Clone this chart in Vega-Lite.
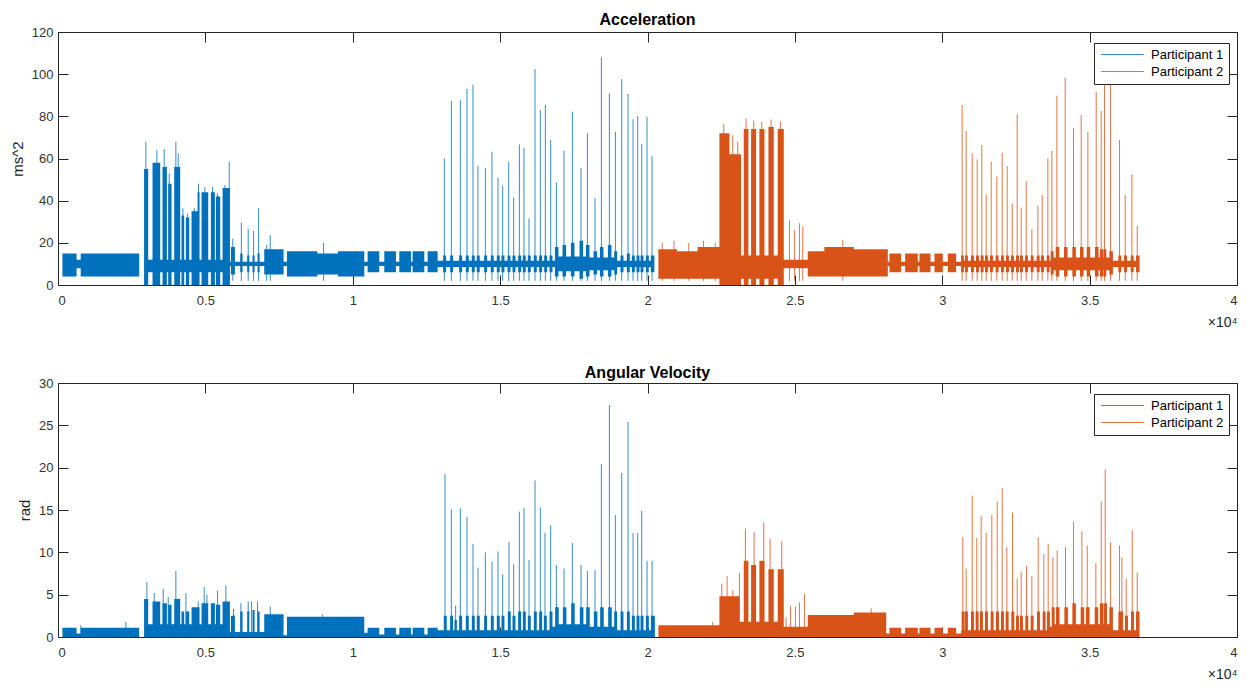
{
  "$schema": "https://vega.github.io/schema/vega-lite/v6.json",
  "background": "white",
  "padding": {"left": 10, "top": 12, "right": 7, "bottom": 2},
  "config": {
    "font": "Liberation Sans",
    "view": {"stroke": null},
    "axis": {
      "grid": false,
      "domainColor": "#262626",
      "tickColor": "#262626",
      "labelColor": "#333333",
      "titleColor": "#262626",
      "labelFont": "Liberation Sans",
      "titleFont": "Liberation Sans",
      "labelFontSize": 13,
      "titleFontSize": 15,
      "titleFontWeight": "normal",
      "tickSize": -10,
      "tickWidth": 1,
      "domainWidth": 1
    },
    "axisLeft": {"labelPadding": 15, "titlePadding": 6},
    "axisBottom": {"labelPadding": 19},
    "title": {"font": "Liberation Sans", "fontSize": 16, "fontWeight": "bold", "color": "#000000"},
    "legend": {
      "orient": "none",
      "legendX": 1036,
      "legendY": 11,
      "symbolType": "M-4.3,0H4.3",
      "symbolSize": 100,
      "symbolOffset": 17,
      "symbolStrokeWidth": 1.2,
      "symbolOpacity": 0.8,
      "labelFont": "Liberation Sans",
      "labelFontSize": 13,
      "labelColor": "#000000",
      "labelOffset": 22,
      "strokeColor": "#262626",
      "fillColor": "white",
      "padding": 5,
      "rowPadding": 3,
      "cornerRadius": 0
    }
  },
  "datasets": {
    "accBand": [
      {"t": 150, "lo": 4, "hi": 15, "p": "Participant 1"},
      {"t": 630, "lo": 8, "hi": 12, "p": "Participant 1"},
      {"t": 770, "lo": 4, "hi": 15, "p": "Participant 1"},
      {"t": 2755, "lo": 10, "hi": 10, "p": "Participant 1"},
      {"t": 2920, "lo": 0, "hi": 55, "p": "Participant 1"},
      {"t": 3060, "lo": 6, "hi": 12, "p": "Participant 1"},
      {"t": 3207, "lo": 0, "hi": 58, "p": "Participant 1"},
      {"t": 3467, "lo": 6, "hi": 12, "p": "Participant 1"},
      {"t": 3546, "lo": 0, "hi": 56, "p": "Participant 1"},
      {"t": 3694, "lo": 6, "hi": 12, "p": "Participant 1"},
      {"t": 3739, "lo": 0, "hi": 48, "p": "Participant 1"},
      {"t": 3852, "lo": 6, "hi": 12, "p": "Participant 1"},
      {"t": 3943, "lo": 0, "hi": 56, "p": "Participant 1"},
      {"t": 4146, "lo": 6, "hi": 12, "p": "Participant 1"},
      {"t": 4191, "lo": 0, "hi": 33, "p": "Participant 1"},
      {"t": 4282, "lo": 6, "hi": 12, "p": "Participant 1"},
      {"t": 4338, "lo": 0, "hi": 32, "p": "Participant 1"},
      {"t": 4452, "lo": 6, "hi": 12, "p": "Participant 1"},
      {"t": 4531, "lo": 0, "hi": 35, "p": "Participant 1"},
      {"t": 4735, "lo": 0, "hi": 44, "p": "Participant 1"},
      {"t": 4802, "lo": 6, "hi": 12, "p": "Participant 1"},
      {"t": 4870, "lo": 0, "hi": 44, "p": "Participant 1"},
      {"t": 5097, "lo": 6, "hi": 12, "p": "Participant 1"},
      {"t": 5187, "lo": 0, "hi": 44, "p": "Participant 1"},
      {"t": 5323, "lo": 6, "hi": 12, "p": "Participant 1"},
      {"t": 5357, "lo": 0, "hi": 42, "p": "Participant 1"},
      {"t": 5504, "lo": 6, "hi": 12, "p": "Participant 1"},
      {"t": 5583, "lo": 0, "hi": 46, "p": "Participant 1"},
      {"t": 5832, "lo": 9, "hi": 11, "p": "Participant 1"},
      {"t": 5866, "lo": 5, "hi": 18, "p": "Participant 1"},
      {"t": 6002, "lo": 9, "hi": 11, "p": "Participant 1"},
      {"t": 6183, "lo": 6, "hi": 15, "p": "Participant 1"},
      {"t": 6262, "lo": 9, "hi": 11, "p": "Participant 1"},
      {"t": 6420, "lo": 6, "hi": 14, "p": "Participant 1"},
      {"t": 6490, "lo": 9, "hi": 11, "p": "Participant 1"},
      {"t": 6600, "lo": 6, "hi": 14, "p": "Participant 1"},
      {"t": 6670, "lo": 9, "hi": 11, "p": "Participant 1"},
      {"t": 6770, "lo": 6, "hi": 15, "p": "Participant 1"},
      {"t": 6840, "lo": 9, "hi": 11, "p": "Participant 1"},
      {"t": 6997, "lo": 5, "hi": 17, "p": "Participant 1"},
      {"t": 7653, "lo": 9, "hi": 11, "p": "Participant 1"},
      {"t": 7767, "lo": 4, "hi": 16, "p": "Participant 1"},
      {"t": 8800, "lo": 5, "hi": 15, "p": "Participant 1"},
      {"t": 9500, "lo": 4, "hi": 16, "p": "Participant 1"},
      {"t": 10391, "lo": 9, "hi": 11, "p": "Participant 1"},
      {"t": 10504, "lo": 6, "hi": 16, "p": "Participant 1"},
      {"t": 10900, "lo": 9, "hi": 11, "p": "Participant 1"},
      {"t": 11070, "lo": 6, "hi": 16, "p": "Participant 1"},
      {"t": 11466, "lo": 9, "hi": 11, "p": "Participant 1"},
      {"t": 11580, "lo": 6, "hi": 16, "p": "Participant 1"},
      {"t": 11975, "lo": 9, "hi": 11, "p": "Participant 1"},
      {"t": 12031, "lo": 6, "hi": 16, "p": "Participant 1"},
      {"t": 12428, "lo": 9, "hi": 11, "p": "Participant 1"},
      {"t": 12541, "lo": 6, "hi": 16, "p": "Participant 1"},
      {"t": 12880, "lo": 8.5, "hi": 11.5, "p": "Participant 1"},
      {"t": 13067, "lo": 6, "hi": 14, "p": "Participant 1"},
      {"t": 13167, "lo": 8.5, "hi": 11.5, "p": "Participant 1"},
      {"t": 13305, "lo": 6, "hi": 14, "p": "Participant 1"},
      {"t": 13405, "lo": 8.5, "hi": 11.5, "p": "Participant 1"},
      {"t": 13610, "lo": 6, "hi": 14, "p": "Participant 1"},
      {"t": 13710, "lo": 8.5, "hi": 11.5, "p": "Participant 1"},
      {"t": 13836, "lo": 6, "hi": 14, "p": "Participant 1"},
      {"t": 13936, "lo": 8.5, "hi": 11.5, "p": "Participant 1"},
      {"t": 14039, "lo": 6, "hi": 14, "p": "Participant 1"},
      {"t": 14139, "lo": 8.5, "hi": 11.5, "p": "Participant 1"},
      {"t": 14208, "lo": 6, "hi": 14, "p": "Participant 1"},
      {"t": 14308, "lo": 8.5, "hi": 11.5, "p": "Participant 1"},
      {"t": 14459, "lo": 6, "hi": 14, "p": "Participant 1"},
      {"t": 14559, "lo": 8.5, "hi": 11.5, "p": "Participant 1"},
      {"t": 14683, "lo": 6, "hi": 14, "p": "Participant 1"},
      {"t": 14783, "lo": 8.5, "hi": 11.5, "p": "Participant 1"},
      {"t": 14887, "lo": 6, "hi": 14, "p": "Participant 1"},
      {"t": 14987, "lo": 8.5, "hi": 11.5, "p": "Participant 1"},
      {"t": 15046, "lo": 6, "hi": 14, "p": "Participant 1"},
      {"t": 15146, "lo": 8.5, "hi": 11.5, "p": "Participant 1"},
      {"t": 15250, "lo": 6, "hi": 14, "p": "Participant 1"},
      {"t": 15350, "lo": 8.5, "hi": 11.5, "p": "Participant 1"},
      {"t": 15420, "lo": 6, "hi": 14, "p": "Participant 1"},
      {"t": 15520, "lo": 8.5, "hi": 11.5, "p": "Participant 1"},
      {"t": 15613, "lo": 6, "hi": 14, "p": "Participant 1"},
      {"t": 15713, "lo": 8.5, "hi": 11.5, "p": "Participant 1"},
      {"t": 15769, "lo": 6, "hi": 14, "p": "Participant 1"},
      {"t": 15869, "lo": 8.5, "hi": 11.5, "p": "Participant 1"},
      {"t": 15939, "lo": 6, "hi": 14, "p": "Participant 1"},
      {"t": 16039, "lo": 8.5, "hi": 11.5, "p": "Participant 1"},
      {"t": 16143, "lo": 6, "hi": 14, "p": "Participant 1"},
      {"t": 16243, "lo": 8.5, "hi": 11.5, "p": "Participant 1"},
      {"t": 16325, "lo": 6, "hi": 14, "p": "Participant 1"},
      {"t": 16425, "lo": 8.5, "hi": 11.5, "p": "Participant 1"},
      {"t": 16495, "lo": 6, "hi": 14, "p": "Participant 1"},
      {"t": 16595, "lo": 8.5, "hi": 11.5, "p": "Participant 1"},
      {"t": 16676, "lo": 6, "hi": 14, "p": "Participant 1"},
      {"t": 16776, "lo": 8.5, "hi": 11.5, "p": "Participant 1"},
      {"t": 16859, "lo": 4, "hi": 18, "p": "Participant 1"},
      {"t": 16979, "lo": 6.5, "hi": 13.5, "p": "Participant 1"},
      {"t": 17117, "lo": 4, "hi": 19, "p": "Participant 1"},
      {"t": 17237, "lo": 6.5, "hi": 13.5, "p": "Participant 1"},
      {"t": 17402, "lo": 4, "hi": 20, "p": "Participant 1"},
      {"t": 17522, "lo": 6.5, "hi": 13.5, "p": "Participant 1"},
      {"t": 17694, "lo": 3, "hi": 21, "p": "Participant 1"},
      {"t": 17814, "lo": 6.5, "hi": 13.5, "p": "Participant 1"},
      {"t": 17911, "lo": 4, "hi": 19, "p": "Participant 1"},
      {"t": 18031, "lo": 7, "hi": 13, "p": "Participant 1"},
      {"t": 18169, "lo": 5, "hi": 16, "p": "Participant 1"},
      {"t": 18289, "lo": 7, "hi": 13, "p": "Participant 1"},
      {"t": 18386, "lo": 4, "hi": 18, "p": "Participant 1"},
      {"t": 18506, "lo": 7, "hi": 13, "p": "Participant 1"},
      {"t": 18657, "lo": 4, "hi": 19, "p": "Participant 1"},
      {"t": 18777, "lo": 7, "hi": 13, "p": "Participant 1"},
      {"t": 18871, "lo": 5, "hi": 16, "p": "Participant 1"},
      {"t": 18971, "lo": 8.5, "hi": 11.5, "p": "Participant 1"},
      {"t": 19085, "lo": 6, "hi": 14, "p": "Participant 1"},
      {"t": 19185, "lo": 8.5, "hi": 11.5, "p": "Participant 1"},
      {"t": 19299, "lo": 6, "hi": 15, "p": "Participant 1"},
      {"t": 19399, "lo": 8.5, "hi": 11.5, "p": "Participant 1"},
      {"t": 19469, "lo": 6, "hi": 14, "p": "Participant 1"},
      {"t": 19569, "lo": 8.5, "hi": 11.5, "p": "Participant 1"},
      {"t": 19628, "lo": 6, "hi": 14, "p": "Participant 1"},
      {"t": 19728, "lo": 8.5, "hi": 11.5, "p": "Participant 1"},
      {"t": 19764, "lo": 6, "hi": 14, "p": "Participant 1"},
      {"t": 19864, "lo": 8.5, "hi": 11.5, "p": "Participant 1"},
      {"t": 19944, "lo": 6, "hi": 14, "p": "Participant 1"},
      {"t": 20044, "lo": 8.5, "hi": 11.5, "p": "Participant 1"},
      {"t": 20114, "lo": 6, "hi": 14, "p": "Participant 1"},
      {"t": 20233, "lo": 10, "hi": 10, "p": "Participant 1"},
      {"t": 20370, "lo": 3, "hi": 17, "p": "Participant 2"},
      {"t": 21000, "lo": 3, "hi": 16, "p": "Participant 2"},
      {"t": 21700, "lo": 3, "hi": 18, "p": "Participant 2"},
      {"t": 22440, "lo": 0, "hi": 72, "p": "Participant 2"},
      {"t": 22779, "lo": 0, "hi": 62, "p": "Participant 2"},
      {"t": 23175, "lo": 3, "hi": 14, "p": "Participant 2"},
      {"t": 23266, "lo": 0, "hi": 74, "p": "Participant 2"},
      {"t": 23424, "lo": 3, "hi": 14, "p": "Participant 2"},
      {"t": 23515, "lo": 0, "hi": 74, "p": "Participant 2"},
      {"t": 23684, "lo": 3, "hi": 14, "p": "Participant 2"},
      {"t": 23797, "lo": 0, "hi": 74, "p": "Participant 2"},
      {"t": 23967, "lo": 3, "hi": 14, "p": "Participant 2"},
      {"t": 24103, "lo": 0, "hi": 75, "p": "Participant 2"},
      {"t": 24284, "lo": 3, "hi": 14, "p": "Participant 2"},
      {"t": 24419, "lo": 0, "hi": 74, "p": "Participant 2"},
      {"t": 24623, "lo": 8, "hi": 12, "p": "Participant 2"},
      {"t": 25438, "lo": 4, "hi": 16, "p": "Participant 2"},
      {"t": 26000, "lo": 4, "hi": 18, "p": "Participant 2"},
      {"t": 27000, "lo": 4, "hi": 17, "p": "Participant 2"},
      {"t": 28153, "lo": 9, "hi": 11, "p": "Participant 2"},
      {"t": 28209, "lo": 6, "hi": 15, "p": "Participant 2"},
      {"t": 28605, "lo": 9, "hi": 11, "p": "Participant 2"},
      {"t": 28741, "lo": 6, "hi": 15, "p": "Participant 2"},
      {"t": 29171, "lo": 9, "hi": 11, "p": "Participant 2"},
      {"t": 29227, "lo": 6, "hi": 15, "p": "Participant 2"},
      {"t": 29601, "lo": 9, "hi": 11, "p": "Participant 2"},
      {"t": 29737, "lo": 6, "hi": 15, "p": "Participant 2"},
      {"t": 30019, "lo": 9, "hi": 11, "p": "Participant 2"},
      {"t": 30189, "lo": 6, "hi": 15, "p": "Participant 2"},
      {"t": 30472, "lo": 9, "hi": 11, "p": "Participant 2"},
      {"t": 30641, "lo": 6, "hi": 14, "p": "Participant 2"},
      {"t": 30735, "lo": 8.5, "hi": 11.5, "p": "Participant 2"},
      {"t": 30771, "lo": 6, "hi": 14, "p": "Participant 2"},
      {"t": 30871, "lo": 8.5, "hi": 11.5, "p": "Participant 2"},
      {"t": 30975, "lo": 6, "hi": 14, "p": "Participant 2"},
      {"t": 31075, "lo": 8.5, "hi": 11.5, "p": "Participant 2"},
      {"t": 31145, "lo": 6, "hi": 14, "p": "Participant 2"},
      {"t": 31245, "lo": 8.5, "hi": 11.5, "p": "Participant 2"},
      {"t": 31303, "lo": 6, "hi": 14, "p": "Participant 2"},
      {"t": 31403, "lo": 8.5, "hi": 11.5, "p": "Participant 2"},
      {"t": 31450, "lo": 6, "hi": 14, "p": "Participant 2"},
      {"t": 31550, "lo": 8.5, "hi": 11.5, "p": "Participant 2"},
      {"t": 31620, "lo": 6, "hi": 14, "p": "Participant 2"},
      {"t": 31720, "lo": 8.5, "hi": 11.5, "p": "Participant 2"},
      {"t": 31812, "lo": 6, "hi": 14, "p": "Participant 2"},
      {"t": 31912, "lo": 8.5, "hi": 11.5, "p": "Participant 2"},
      {"t": 31993, "lo": 6, "hi": 14, "p": "Participant 2"},
      {"t": 32093, "lo": 8.5, "hi": 11.5, "p": "Participant 2"},
      {"t": 32163, "lo": 6, "hi": 14, "p": "Participant 2"},
      {"t": 32263, "lo": 8.5, "hi": 11.5, "p": "Participant 2"},
      {"t": 32333, "lo": 6, "hi": 14, "p": "Participant 2"},
      {"t": 32433, "lo": 8.5, "hi": 11.5, "p": "Participant 2"},
      {"t": 32502, "lo": 6, "hi": 14, "p": "Participant 2"},
      {"t": 32602, "lo": 8.5, "hi": 11.5, "p": "Participant 2"},
      {"t": 32638, "lo": 6, "hi": 14, "p": "Participant 2"},
      {"t": 32738, "lo": 8.5, "hi": 11.5, "p": "Participant 2"},
      {"t": 32808, "lo": 6, "hi": 14, "p": "Participant 2"},
      {"t": 32908, "lo": 8.5, "hi": 11.5, "p": "Participant 2"},
      {"t": 33000, "lo": 6, "hi": 14, "p": "Participant 2"},
      {"t": 33100, "lo": 8.5, "hi": 11.5, "p": "Participant 2"},
      {"t": 33204, "lo": 6, "hi": 14, "p": "Participant 2"},
      {"t": 33304, "lo": 8.5, "hi": 11.5, "p": "Participant 2"},
      {"t": 33351, "lo": 6, "hi": 14, "p": "Participant 2"},
      {"t": 33451, "lo": 8.5, "hi": 11.5, "p": "Participant 2"},
      {"t": 33543, "lo": 6, "hi": 14, "p": "Participant 2"},
      {"t": 33643, "lo": 8.5, "hi": 11.5, "p": "Participant 2"},
      {"t": 33679, "lo": 5, "hi": 16, "p": "Participant 2"},
      {"t": 33779, "lo": 7, "hi": 13, "p": "Participant 2"},
      {"t": 33849, "lo": 4, "hi": 18, "p": "Participant 2"},
      {"t": 33969, "lo": 7, "hi": 13, "p": "Participant 2"},
      {"t": 34131, "lo": 4, "hi": 18, "p": "Participant 2"},
      {"t": 34251, "lo": 7, "hi": 13, "p": "Participant 2"},
      {"t": 34414, "lo": 4, "hi": 18, "p": "Participant 2"},
      {"t": 34534, "lo": 7, "hi": 13, "p": "Participant 2"},
      {"t": 34674, "lo": 4, "hi": 18, "p": "Participant 2"},
      {"t": 34794, "lo": 7, "hi": 13, "p": "Participant 2"},
      {"t": 34901, "lo": 4, "hi": 18, "p": "Participant 2"},
      {"t": 35021, "lo": 7, "hi": 13, "p": "Participant 2"},
      {"t": 35183, "lo": 4, "hi": 18, "p": "Participant 2"},
      {"t": 35303, "lo": 7, "hi": 13, "p": "Participant 2"},
      {"t": 35353, "lo": 4, "hi": 17, "p": "Participant 2"},
      {"t": 35453, "lo": 7, "hi": 13, "p": "Participant 2"},
      {"t": 35466, "lo": 4, "hi": 17, "p": "Participant 2"},
      {"t": 35566, "lo": 7, "hi": 13, "p": "Participant 2"},
      {"t": 35670, "lo": 5, "hi": 16, "p": "Participant 2"},
      {"t": 35790, "lo": 8.5, "hi": 11.5, "p": "Participant 2"},
      {"t": 35975, "lo": 6, "hi": 14, "p": "Participant 2"},
      {"t": 36075, "lo": 8.5, "hi": 11.5, "p": "Participant 2"},
      {"t": 36168, "lo": 6, "hi": 14, "p": "Participant 2"},
      {"t": 36268, "lo": 8.5, "hi": 11.5, "p": "Participant 2"},
      {"t": 36394, "lo": 6, "hi": 14, "p": "Participant 2"},
      {"t": 36494, "lo": 8.5, "hi": 11.5, "p": "Participant 2"},
      {"t": 36575, "lo": 6, "hi": 14, "p": "Participant 2"},
      {"t": 36694, "lo": 10, "hi": 10, "p": "Participant 2"}
    ],
    "accSpike": [
      {"t": 2981, "v": 68, "p": "Participant 1"},
      {"t": 3354, "v": 64, "p": "Participant 1"},
      {"t": 3603, "v": 64.5, "p": "Participant 1"},
      {"t": 3773, "v": 53, "p": "Participant 1"},
      {"t": 3999, "v": 68, "p": "Participant 1"},
      {"t": 4078, "v": 62.5, "p": "Participant 1"},
      {"t": 4237, "v": 36.4, "p": "Participant 1"},
      {"t": 4395, "v": 34, "p": "Participant 1"},
      {"t": 4621, "v": 36.5, "p": "Participant 1"},
      {"t": 4768, "v": 48, "p": "Participant 1"},
      {"t": 4983, "v": 46.3, "p": "Participant 1"},
      {"t": 5243, "v": 46.6, "p": "Participant 1"},
      {"t": 5413, "v": 43.5, "p": "Participant 1"},
      {"t": 5662, "v": 47.4, "p": "Participant 1"},
      {"t": 5809, "v": 58.5, "p": "Participant 1"},
      {"t": 5930, "v": 22, "p": "Participant 1"},
      {"t": 6220, "v": 29.5, "p": "Participant 1"},
      {"t": 6454, "v": 26.7, "p": "Participant 1"},
      {"t": 6635, "v": 25.6, "p": "Participant 1"},
      {"t": 6805, "v": 36.4, "p": "Participant 1"},
      {"t": 7080, "v": 19, "p": "Participant 1"},
      {"t": 7200, "v": 23.7, "p": "Participant 1"},
      {"t": 9011, "v": 20, "p": "Participant 1"},
      {"t": 13107, "v": 60.1, "p": "Participant 1"},
      {"t": 13345, "v": 87.4, "p": "Participant 1"},
      {"t": 13650, "v": 87.7, "p": "Participant 1"},
      {"t": 13876, "v": 93, "p": "Participant 1"},
      {"t": 14079, "v": 95, "p": "Participant 1"},
      {"t": 14248, "v": 56.6, "p": "Participant 1"},
      {"t": 14499, "v": 55.3, "p": "Participant 1"},
      {"t": 14723, "v": 63.2, "p": "Participant 1"},
      {"t": 14927, "v": 50.9, "p": "Participant 1"},
      {"t": 15086, "v": 47.1, "p": "Participant 1"},
      {"t": 15290, "v": 58.3, "p": "Participant 1"},
      {"t": 15460, "v": 41.6, "p": "Participant 1"},
      {"t": 15653, "v": 66.7, "p": "Participant 1"},
      {"t": 15809, "v": 65.1, "p": "Participant 1"},
      {"t": 15979, "v": 31.6, "p": "Participant 1"},
      {"t": 16183, "v": 102.4, "p": "Participant 1"},
      {"t": 16365, "v": 83, "p": "Participant 1"},
      {"t": 16535, "v": 85.4, "p": "Participant 1"},
      {"t": 16716, "v": 68.8, "p": "Participant 1"},
      {"t": 16909, "v": 48.7, "p": "Participant 1"},
      {"t": 17167, "v": 63.7, "p": "Participant 1"},
      {"t": 17452, "v": 82.2, "p": "Participant 1"},
      {"t": 17744, "v": 55.5, "p": "Participant 1"},
      {"t": 17961, "v": 72, "p": "Participant 1"},
      {"t": 18219, "v": 41.1, "p": "Participant 1"},
      {"t": 18436, "v": 108, "p": "Participant 1"},
      {"t": 18707, "v": 90.9, "p": "Participant 1"},
      {"t": 18911, "v": 72.7, "p": "Participant 1"},
      {"t": 19125, "v": 97.6, "p": "Participant 1"},
      {"t": 19339, "v": 90.6, "p": "Participant 1"},
      {"t": 19509, "v": 78.6, "p": "Participant 1"},
      {"t": 19668, "v": 80.2, "p": "Participant 1"},
      {"t": 19804, "v": 66.9, "p": "Participant 1"},
      {"t": 19984, "v": 79.8, "p": "Participant 1"},
      {"t": 20154, "v": 61.2, "p": "Participant 1"},
      {"t": 20500, "v": 20, "p": "Participant 2"},
      {"t": 20900, "v": 21, "p": "Participant 2"},
      {"t": 21400, "v": 20, "p": "Participant 2"},
      {"t": 21900, "v": 21, "p": "Participant 2"},
      {"t": 22300, "v": 20, "p": "Participant 2"},
      {"t": 22587, "v": 76.4, "p": "Participant 2"},
      {"t": 22892, "v": 71, "p": "Participant 2"},
      {"t": 23062, "v": 68, "p": "Participant 2"},
      {"t": 23345, "v": 79, "p": "Participant 2"},
      {"t": 23605, "v": 78, "p": "Participant 2"},
      {"t": 23876, "v": 77.5, "p": "Participant 2"},
      {"t": 24193, "v": 78.5, "p": "Participant 2"},
      {"t": 24510, "v": 77.5, "p": "Participant 2"},
      {"t": 24816, "v": 30.8, "p": "Participant 2"},
      {"t": 24985, "v": 26, "p": "Participant 2"},
      {"t": 25155, "v": 29.3, "p": "Participant 2"},
      {"t": 25268, "v": 27.7, "p": "Participant 2"},
      {"t": 26626, "v": 21.3, "p": "Participant 2"},
      {"t": 30675, "v": 85.4, "p": "Participant 2"},
      {"t": 30811, "v": 73, "p": "Participant 2"},
      {"t": 31015, "v": 62.5, "p": "Participant 2"},
      {"t": 31185, "v": 59.6, "p": "Participant 2"},
      {"t": 31343, "v": 66.4, "p": "Participant 2"},
      {"t": 31490, "v": 43, "p": "Participant 2"},
      {"t": 31660, "v": 58.5, "p": "Participant 2"},
      {"t": 31852, "v": 51.4, "p": "Participant 2"},
      {"t": 32033, "v": 62.8, "p": "Participant 2"},
      {"t": 32203, "v": 56.4, "p": "Participant 2"},
      {"t": 32373, "v": 38.7, "p": "Participant 2"},
      {"t": 32542, "v": 81, "p": "Participant 2"},
      {"t": 32678, "v": 36.7, "p": "Participant 2"},
      {"t": 32848, "v": 49.3, "p": "Participant 2"},
      {"t": 33040, "v": 26.4, "p": "Participant 2"},
      {"t": 33244, "v": 37.6, "p": "Participant 2"},
      {"t": 33391, "v": 42.7, "p": "Participant 2"},
      {"t": 33583, "v": 60.1, "p": "Participant 2"},
      {"t": 33719, "v": 63.6, "p": "Participant 2"},
      {"t": 33889, "v": 89.8, "p": "Participant 2"},
      {"t": 34171, "v": 98.3, "p": "Participant 2"},
      {"t": 34454, "v": 74.3, "p": "Participant 2"},
      {"t": 34714, "v": 80.6, "p": "Participant 2"},
      {"t": 34941, "v": 72.7, "p": "Participant 2"},
      {"t": 35223, "v": 91.7, "p": "Participant 2"},
      {"t": 35393, "v": 82.5, "p": "Participant 2"},
      {"t": 35506, "v": 97, "p": "Participant 2"},
      {"t": 35710, "v": 98, "p": "Participant 2"},
      {"t": 36015, "v": 68.8, "p": "Participant 2"},
      {"t": 36208, "v": 42.7, "p": "Participant 2"},
      {"t": 36434, "v": 52.5, "p": "Participant 2"},
      {"t": 36615, "v": 28, "p": "Participant 2"}
    ],
    "gyrBand": [
      {"t": 150, "lo": 0, "hi": 1.1, "p": "Participant 1"},
      {"t": 630, "lo": 0, "hi": 0.4, "p": "Participant 1"},
      {"t": 770, "lo": 0, "hi": 1.1, "p": "Participant 1"},
      {"t": 2755, "lo": 0, "hi": 0, "p": "Participant 1"},
      {"t": 2920, "lo": 0, "hi": 4.5, "p": "Participant 1"},
      {"t": 3060, "lo": 0, "hi": 1.5, "p": "Participant 1"},
      {"t": 3207, "lo": 0, "hi": 4.2, "p": "Participant 1"},
      {"t": 3467, "lo": 0, "hi": 1.5, "p": "Participant 1"},
      {"t": 3546, "lo": 0, "hi": 4, "p": "Participant 1"},
      {"t": 3694, "lo": 0, "hi": 1.5, "p": "Participant 1"},
      {"t": 3739, "lo": 0, "hi": 3.8, "p": "Participant 1"},
      {"t": 3852, "lo": 0, "hi": 1.5, "p": "Participant 1"},
      {"t": 3943, "lo": 0, "hi": 4.5, "p": "Participant 1"},
      {"t": 4146, "lo": 0, "hi": 1.5, "p": "Participant 1"},
      {"t": 4191, "lo": 0, "hi": 3, "p": "Participant 1"},
      {"t": 4282, "lo": 0, "hi": 1.5, "p": "Participant 1"},
      {"t": 4338, "lo": 0, "hi": 3, "p": "Participant 1"},
      {"t": 4452, "lo": 0, "hi": 1.5, "p": "Participant 1"},
      {"t": 4531, "lo": 0, "hi": 3.5, "p": "Participant 1"},
      {"t": 4802, "lo": 0, "hi": 1.5, "p": "Participant 1"},
      {"t": 4870, "lo": 0, "hi": 4, "p": "Participant 1"},
      {"t": 5097, "lo": 0, "hi": 1.5, "p": "Participant 1"},
      {"t": 5187, "lo": 0, "hi": 4, "p": "Participant 1"},
      {"t": 5323, "lo": 0, "hi": 1.5, "p": "Participant 1"},
      {"t": 5357, "lo": 0, "hi": 3.8, "p": "Participant 1"},
      {"t": 5504, "lo": 0, "hi": 1.5, "p": "Participant 1"},
      {"t": 5583, "lo": 0, "hi": 4.2, "p": "Participant 1"},
      {"t": 5832, "lo": 0, "hi": 0.6, "p": "Participant 1"},
      {"t": 5866, "lo": 0, "hi": 2.5, "p": "Participant 1"},
      {"t": 6002, "lo": 0, "hi": 0.6, "p": "Participant 1"},
      {"t": 6183, "lo": 0, "hi": 3, "p": "Participant 1"},
      {"t": 6262, "lo": 0, "hi": 0.6, "p": "Participant 1"},
      {"t": 6420, "lo": 0, "hi": 3, "p": "Participant 1"},
      {"t": 6490, "lo": 0, "hi": 0.6, "p": "Participant 1"},
      {"t": 6600, "lo": 0, "hi": 3.2, "p": "Participant 1"},
      {"t": 6670, "lo": 0, "hi": 0.6, "p": "Participant 1"},
      {"t": 6770, "lo": 0, "hi": 3, "p": "Participant 1"},
      {"t": 6840, "lo": 0, "hi": 0.6, "p": "Participant 1"},
      {"t": 6997, "lo": 0, "hi": 2.7, "p": "Participant 1"},
      {"t": 7653, "lo": 0, "hi": 0.2, "p": "Participant 1"},
      {"t": 7767, "lo": 0, "hi": 2.4, "p": "Participant 1"},
      {"t": 10391, "lo": 0, "hi": 0.5, "p": "Participant 1"},
      {"t": 10504, "lo": 0, "hi": 1.1, "p": "Participant 1"},
      {"t": 10900, "lo": 0, "hi": 0.3, "p": "Participant 1"},
      {"t": 11070, "lo": 0, "hi": 1.1, "p": "Participant 1"},
      {"t": 11466, "lo": 0, "hi": 0.3, "p": "Participant 1"},
      {"t": 11580, "lo": 0, "hi": 1.1, "p": "Participant 1"},
      {"t": 11975, "lo": 0, "hi": 0.3, "p": "Participant 1"},
      {"t": 12031, "lo": 0, "hi": 1.1, "p": "Participant 1"},
      {"t": 12428, "lo": 0, "hi": 0.3, "p": "Participant 1"},
      {"t": 12541, "lo": 0, "hi": 1.1, "p": "Participant 1"},
      {"t": 12880, "lo": 0, "hi": 0.8, "p": "Participant 1"},
      {"t": 13089, "lo": 0, "hi": 2.5, "p": "Participant 1"},
      {"t": 13189, "lo": 0, "hi": 0.8, "p": "Participant 1"},
      {"t": 13304, "lo": 0, "hi": 2.5, "p": "Participant 1"},
      {"t": 13404, "lo": 0, "hi": 0.8, "p": "Participant 1"},
      {"t": 13451, "lo": 0, "hi": 2, "p": "Participant 1"},
      {"t": 13531, "lo": 0, "hi": 0.8, "p": "Participant 1"},
      {"t": 13610, "lo": 0, "hi": 2.5, "p": "Participant 1"},
      {"t": 13710, "lo": 0, "hi": 0.8, "p": "Participant 1"},
      {"t": 13836, "lo": 0, "hi": 2.5, "p": "Participant 1"},
      {"t": 13936, "lo": 0, "hi": 0.8, "p": "Participant 1"},
      {"t": 14040, "lo": 0, "hi": 2.5, "p": "Participant 1"},
      {"t": 14140, "lo": 0, "hi": 0.8, "p": "Participant 1"},
      {"t": 14209, "lo": 0, "hi": 2.5, "p": "Participant 1"},
      {"t": 14309, "lo": 0, "hi": 0.8, "p": "Participant 1"},
      {"t": 14458, "lo": 0, "hi": 2.5, "p": "Participant 1"},
      {"t": 14558, "lo": 0, "hi": 0.8, "p": "Participant 1"},
      {"t": 14684, "lo": 0, "hi": 2.5, "p": "Participant 1"},
      {"t": 14784, "lo": 0, "hi": 0.8, "p": "Participant 1"},
      {"t": 14888, "lo": 0, "hi": 2.5, "p": "Participant 1"},
      {"t": 14988, "lo": 0, "hi": 0.8, "p": "Participant 1"},
      {"t": 15046, "lo": 0, "hi": 2.5, "p": "Participant 1"},
      {"t": 15146, "lo": 0, "hi": 0.8, "p": "Participant 1"},
      {"t": 15261, "lo": 0, "hi": 3, "p": "Participant 1"},
      {"t": 15361, "lo": 0, "hi": 0.8, "p": "Participant 1"},
      {"t": 15420, "lo": 0, "hi": 2.5, "p": "Participant 1"},
      {"t": 15520, "lo": 0, "hi": 0.8, "p": "Participant 1"},
      {"t": 15612, "lo": 0, "hi": 3, "p": "Participant 1"},
      {"t": 15712, "lo": 0, "hi": 0.8, "p": "Participant 1"},
      {"t": 15770, "lo": 0, "hi": 3, "p": "Participant 1"},
      {"t": 15870, "lo": 0, "hi": 0.8, "p": "Participant 1"},
      {"t": 15940, "lo": 0, "hi": 2.5, "p": "Participant 1"},
      {"t": 16040, "lo": 0, "hi": 0.8, "p": "Participant 1"},
      {"t": 16144, "lo": 0, "hi": 3, "p": "Participant 1"},
      {"t": 16244, "lo": 0, "hi": 0.8, "p": "Participant 1"},
      {"t": 16325, "lo": 0, "hi": 3, "p": "Participant 1"},
      {"t": 16425, "lo": 0, "hi": 0.8, "p": "Participant 1"},
      {"t": 16483, "lo": 0, "hi": 2.5, "p": "Participant 1"},
      {"t": 16583, "lo": 0, "hi": 0.8, "p": "Participant 1"},
      {"t": 16675, "lo": 0, "hi": 3, "p": "Participant 1"},
      {"t": 16775, "lo": 0, "hi": 1.2, "p": "Participant 1"},
      {"t": 16868, "lo": 0, "hi": 3.5, "p": "Participant 1"},
      {"t": 16988, "lo": 0, "hi": 1.5, "p": "Participant 1"},
      {"t": 17128, "lo": 0, "hi": 3.5, "p": "Participant 1"},
      {"t": 17248, "lo": 0, "hi": 1.5, "p": "Participant 1"},
      {"t": 17411, "lo": 0, "hi": 4, "p": "Participant 1"},
      {"t": 17531, "lo": 0, "hi": 1.5, "p": "Participant 1"},
      {"t": 17705, "lo": 0, "hi": 3.5, "p": "Participant 1"},
      {"t": 17825, "lo": 0, "hi": 1.5, "p": "Participant 1"},
      {"t": 17920, "lo": 0, "hi": 3.5, "p": "Participant 1"},
      {"t": 18040, "lo": 0, "hi": 1.2, "p": "Participant 1"},
      {"t": 18180, "lo": 0, "hi": 3, "p": "Participant 1"},
      {"t": 18300, "lo": 0, "hi": 1.2, "p": "Participant 1"},
      {"t": 18395, "lo": 0, "hi": 3.5, "p": "Participant 1"},
      {"t": 18515, "lo": 0, "hi": 1.2, "p": "Participant 1"},
      {"t": 18667, "lo": 0, "hi": 3.5, "p": "Participant 1"},
      {"t": 18787, "lo": 0, "hi": 1.2, "p": "Participant 1"},
      {"t": 18870, "lo": 0, "hi": 3, "p": "Participant 1"},
      {"t": 18970, "lo": 0, "hi": 0.8, "p": "Participant 1"},
      {"t": 19085, "lo": 0, "hi": 3, "p": "Participant 1"},
      {"t": 19185, "lo": 0, "hi": 0.8, "p": "Participant 1"},
      {"t": 19300, "lo": 0, "hi": 3, "p": "Participant 1"},
      {"t": 19400, "lo": 0, "hi": 0.8, "p": "Participant 1"},
      {"t": 19470, "lo": 0, "hi": 2.5, "p": "Participant 1"},
      {"t": 19570, "lo": 0, "hi": 0.8, "p": "Participant 1"},
      {"t": 19628, "lo": 0, "hi": 2.5, "p": "Participant 1"},
      {"t": 19728, "lo": 0, "hi": 0.8, "p": "Participant 1"},
      {"t": 19764, "lo": 0, "hi": 2.5, "p": "Participant 1"},
      {"t": 19864, "lo": 0, "hi": 0.8, "p": "Participant 1"},
      {"t": 19945, "lo": 0, "hi": 2.5, "p": "Participant 1"},
      {"t": 20045, "lo": 0, "hi": 0.8, "p": "Participant 1"},
      {"t": 20115, "lo": 0, "hi": 2.5, "p": "Participant 1"},
      {"t": 20250, "lo": 0, "hi": 0, "p": "Participant 1"},
      {"t": 20370, "lo": 0, "hi": 1.4, "p": "Participant 2"},
      {"t": 22440, "lo": 0, "hi": 4.8, "p": "Participant 2"},
      {"t": 23118, "lo": 0, "hi": 1.8, "p": "Participant 2"},
      {"t": 23266, "lo": 0, "hi": 9, "p": "Participant 2"},
      {"t": 23424, "lo": 0, "hi": 1.8, "p": "Participant 2"},
      {"t": 23515, "lo": 0, "hi": 8.5, "p": "Participant 2"},
      {"t": 23684, "lo": 0, "hi": 1.8, "p": "Participant 2"},
      {"t": 23797, "lo": 0, "hi": 9, "p": "Participant 2"},
      {"t": 23967, "lo": 0, "hi": 1.8, "p": "Participant 2"},
      {"t": 24103, "lo": 0, "hi": 8, "p": "Participant 2"},
      {"t": 24284, "lo": 0, "hi": 1.8, "p": "Participant 2"},
      {"t": 24419, "lo": 0, "hi": 8, "p": "Participant 2"},
      {"t": 24623, "lo": 0, "hi": 1.2, "p": "Participant 2"},
      {"t": 25438, "lo": 0, "hi": 2.6, "p": "Participant 2"},
      {"t": 27000, "lo": 0, "hi": 2.9, "p": "Participant 2"},
      {"t": 28100, "lo": 0, "hi": 0.4, "p": "Participant 2"},
      {"t": 28209, "lo": 0, "hi": 1.1, "p": "Participant 2"},
      {"t": 28605, "lo": 0, "hi": 0.4, "p": "Participant 2"},
      {"t": 28741, "lo": 0, "hi": 1.1, "p": "Participant 2"},
      {"t": 29171, "lo": 0, "hi": 0.4, "p": "Participant 2"},
      {"t": 29227, "lo": 0, "hi": 1.1, "p": "Participant 2"},
      {"t": 29601, "lo": 0, "hi": 0.4, "p": "Participant 2"},
      {"t": 29737, "lo": 0, "hi": 1.1, "p": "Participant 2"},
      {"t": 30019, "lo": 0, "hi": 0.4, "p": "Participant 2"},
      {"t": 30189, "lo": 0, "hi": 1.1, "p": "Participant 2"},
      {"t": 30472, "lo": 0, "hi": 0.4, "p": "Participant 2"},
      {"t": 30641, "lo": 0, "hi": 0.8, "p": "Participant 2"},
      {"t": 30658, "lo": 0, "hi": 3, "p": "Participant 2"},
      {"t": 30758, "lo": 0, "hi": 0.8, "p": "Participant 2"},
      {"t": 30771, "lo": 0, "hi": 3, "p": "Participant 2"},
      {"t": 30871, "lo": 0, "hi": 0.8, "p": "Participant 2"},
      {"t": 30975, "lo": 0, "hi": 3, "p": "Participant 2"},
      {"t": 31075, "lo": 0, "hi": 0.8, "p": "Participant 2"},
      {"t": 31133, "lo": 0, "hi": 3, "p": "Participant 2"},
      {"t": 31233, "lo": 0, "hi": 0.8, "p": "Participant 2"},
      {"t": 31280, "lo": 0, "hi": 3, "p": "Participant 2"},
      {"t": 31380, "lo": 0, "hi": 0.8, "p": "Participant 2"},
      {"t": 31450, "lo": 0, "hi": 3, "p": "Participant 2"},
      {"t": 31550, "lo": 0, "hi": 0.8, "p": "Participant 2"},
      {"t": 31642, "lo": 0, "hi": 3, "p": "Participant 2"},
      {"t": 31742, "lo": 0, "hi": 0.8, "p": "Participant 2"},
      {"t": 31824, "lo": 0, "hi": 3, "p": "Participant 2"},
      {"t": 31924, "lo": 0, "hi": 0.8, "p": "Participant 2"},
      {"t": 31993, "lo": 0, "hi": 3, "p": "Participant 2"},
      {"t": 32093, "lo": 0, "hi": 0.8, "p": "Participant 2"},
      {"t": 32152, "lo": 0, "hi": 3, "p": "Participant 2"},
      {"t": 32252, "lo": 0, "hi": 0.8, "p": "Participant 2"},
      {"t": 32344, "lo": 0, "hi": 3, "p": "Participant 2"},
      {"t": 32444, "lo": 0, "hi": 0.8, "p": "Participant 2"},
      {"t": 32502, "lo": 0, "hi": 2.5, "p": "Participant 2"},
      {"t": 32602, "lo": 0, "hi": 0.8, "p": "Participant 2"},
      {"t": 32638, "lo": 0, "hi": 2.5, "p": "Participant 2"},
      {"t": 32738, "lo": 0, "hi": 0.8, "p": "Participant 2"},
      {"t": 32819, "lo": 0, "hi": 2.5, "p": "Participant 2"},
      {"t": 32919, "lo": 0, "hi": 0.8, "p": "Participant 2"},
      {"t": 33000, "lo": 0, "hi": 2.5, "p": "Participant 2"},
      {"t": 33100, "lo": 0, "hi": 0.8, "p": "Participant 2"},
      {"t": 33215, "lo": 0, "hi": 3, "p": "Participant 2"},
      {"t": 33315, "lo": 0, "hi": 0.8, "p": "Participant 2"},
      {"t": 33407, "lo": 0, "hi": 3, "p": "Participant 2"},
      {"t": 33507, "lo": 0, "hi": 0.8, "p": "Participant 2"},
      {"t": 33554, "lo": 0, "hi": 3, "p": "Participant 2"},
      {"t": 33654, "lo": 0, "hi": 1.2, "p": "Participant 2"},
      {"t": 33713, "lo": 0, "hi": 3.5, "p": "Participant 2"},
      {"t": 33813, "lo": 0, "hi": 1.5, "p": "Participant 2"},
      {"t": 33860, "lo": 0, "hi": 3.5, "p": "Participant 2"},
      {"t": 33980, "lo": 0, "hi": 1.5, "p": "Participant 2"},
      {"t": 34143, "lo": 0, "hi": 3.5, "p": "Participant 2"},
      {"t": 34263, "lo": 0, "hi": 1.5, "p": "Participant 2"},
      {"t": 34414, "lo": 0, "hi": 4, "p": "Participant 2"},
      {"t": 34534, "lo": 0, "hi": 1.5, "p": "Participant 2"},
      {"t": 34697, "lo": 0, "hi": 3.5, "p": "Participant 2"},
      {"t": 34817, "lo": 0, "hi": 1.5, "p": "Participant 2"},
      {"t": 34878, "lo": 0, "hi": 3.5, "p": "Participant 2"},
      {"t": 34998, "lo": 0, "hi": 1.5, "p": "Participant 2"},
      {"t": 35172, "lo": 0, "hi": 3.5, "p": "Participant 2"},
      {"t": 35292, "lo": 0, "hi": 1.5, "p": "Participant 2"},
      {"t": 35353, "lo": 0, "hi": 4, "p": "Participant 2"},
      {"t": 35473, "lo": 0, "hi": 1.5, "p": "Participant 2"},
      {"t": 35489, "lo": 0, "hi": 4, "p": "Participant 2"},
      {"t": 35589, "lo": 0, "hi": 1.5, "p": "Participant 2"},
      {"t": 35670, "lo": 0, "hi": 3.5, "p": "Participant 2"},
      {"t": 35790, "lo": 0, "hi": 0.8, "p": "Participant 2"},
      {"t": 35975, "lo": 0, "hi": 3, "p": "Participant 2"},
      {"t": 36135, "lo": 0, "hi": 0.8, "p": "Participant 2"},
      {"t": 36201, "lo": 0, "hi": 2.5, "p": "Participant 2"},
      {"t": 36301, "lo": 0, "hi": 0.8, "p": "Participant 2"},
      {"t": 36405, "lo": 0, "hi": 3, "p": "Participant 2"},
      {"t": 36505, "lo": 0, "hi": 0.8, "p": "Participant 2"},
      {"t": 36575, "lo": 0, "hi": 3, "p": "Participant 2"},
      {"t": 36694, "lo": 0, "hi": 0, "p": "Participant 2"}
    ],
    "gyrSpike": [
      {"t": 775, "v": 1.4, "p": "Participant 1"},
      {"t": 2303, "v": 1.8, "p": "Participant 1"},
      {"t": 3015, "v": 6.5, "p": "Participant 1"},
      {"t": 3264, "v": 5.2, "p": "Participant 1"},
      {"t": 3570, "v": 5.7, "p": "Participant 1"},
      {"t": 3739, "v": 4.7, "p": "Participant 1"},
      {"t": 3999, "v": 7.8, "p": "Participant 1"},
      {"t": 4339, "v": 5.2, "p": "Participant 1"},
      {"t": 4757, "v": 4.2, "p": "Participant 1"},
      {"t": 4961, "v": 5.9, "p": "Participant 1"},
      {"t": 5052, "v": 5, "p": "Participant 1"},
      {"t": 5414, "v": 5.5, "p": "Participant 1"},
      {"t": 5696, "v": 6.1, "p": "Participant 1"},
      {"t": 5956, "v": 3.3, "p": "Participant 1"},
      {"t": 6205, "v": 4, "p": "Participant 1"},
      {"t": 6454, "v": 4.2, "p": "Participant 1"},
      {"t": 6567, "v": 4.2, "p": "Participant 1"},
      {"t": 6771, "v": 4.2, "p": "Participant 1"},
      {"t": 7201, "v": 3.6, "p": "Participant 1"},
      {"t": 8977, "v": 2.7, "p": "Participant 1"},
      {"t": 13129, "v": 19.25, "p": "Participant 1"},
      {"t": 13344, "v": 15.1, "p": "Participant 1"},
      {"t": 13491, "v": 3.7, "p": "Participant 1"},
      {"t": 13650, "v": 15.2, "p": "Participant 1"},
      {"t": 13876, "v": 14.2, "p": "Participant 1"},
      {"t": 14080, "v": 11, "p": "Participant 1"},
      {"t": 14249, "v": 8.2, "p": "Participant 1"},
      {"t": 14498, "v": 10, "p": "Participant 1"},
      {"t": 14724, "v": 8.9, "p": "Participant 1"},
      {"t": 14928, "v": 10.1, "p": "Participant 1"},
      {"t": 15086, "v": 7.4, "p": "Participant 1"},
      {"t": 15301, "v": 11.2, "p": "Participant 1"},
      {"t": 15460, "v": 8.6, "p": "Participant 1"},
      {"t": 15652, "v": 14.8, "p": "Participant 1"},
      {"t": 15810, "v": 15.2, "p": "Participant 1"},
      {"t": 15980, "v": 9.1, "p": "Participant 1"},
      {"t": 16184, "v": 18.5, "p": "Participant 1"},
      {"t": 16365, "v": 15.3, "p": "Participant 1"},
      {"t": 16523, "v": 12.3, "p": "Participant 1"},
      {"t": 16715, "v": 13.2, "p": "Participant 1"},
      {"t": 16908, "v": 8.5, "p": "Participant 1"},
      {"t": 17168, "v": 8.1, "p": "Participant 1"},
      {"t": 17451, "v": 11.1, "p": "Participant 1"},
      {"t": 17745, "v": 8.5, "p": "Participant 1"},
      {"t": 17960, "v": 7.8, "p": "Participant 1"},
      {"t": 18220, "v": 7.9, "p": "Participant 1"},
      {"t": 18435, "v": 20.4, "p": "Participant 1"},
      {"t": 18707, "v": 27.4, "p": "Participant 1"},
      {"t": 18910, "v": 14.4, "p": "Participant 1"},
      {"t": 19125, "v": 19.4, "p": "Participant 1"},
      {"t": 19340, "v": 25.4, "p": "Participant 1"},
      {"t": 19510, "v": 12.3, "p": "Participant 1"},
      {"t": 19668, "v": 12.3, "p": "Participant 1"},
      {"t": 19804, "v": 14.9, "p": "Participant 1"},
      {"t": 19985, "v": 9, "p": "Participant 1"},
      {"t": 20155, "v": 9, "p": "Participant 1"},
      {"t": 22213, "v": 1.8, "p": "Participant 2"},
      {"t": 22519, "v": 6.3, "p": "Participant 2"},
      {"t": 22700, "v": 7.2, "p": "Participant 2"},
      {"t": 22892, "v": 5.5, "p": "Participant 2"},
      {"t": 23118, "v": 7.6, "p": "Participant 2"},
      {"t": 23322, "v": 12.8, "p": "Participant 2"},
      {"t": 23616, "v": 12.4, "p": "Participant 2"},
      {"t": 23944, "v": 13.5, "p": "Participant 2"},
      {"t": 24159, "v": 11.6, "p": "Participant 2"},
      {"t": 24555, "v": 11.3, "p": "Participant 2"},
      {"t": 24702, "v": 2.3, "p": "Participant 2"},
      {"t": 24849, "v": 3.7, "p": "Participant 2"},
      {"t": 25019, "v": 3.6, "p": "Participant 2"},
      {"t": 25155, "v": 4.1, "p": "Participant 2"},
      {"t": 25325, "v": 5.1, "p": "Participant 2"},
      {"t": 27587, "v": 3.4, "p": "Participant 2"},
      {"t": 30698, "v": 11.8, "p": "Participant 2"},
      {"t": 30811, "v": 8.1, "p": "Participant 2"},
      {"t": 31015, "v": 16.7, "p": "Participant 2"},
      {"t": 31173, "v": 11.7, "p": "Participant 2"},
      {"t": 31320, "v": 14.3, "p": "Participant 2"},
      {"t": 31490, "v": 12.3, "p": "Participant 2"},
      {"t": 31682, "v": 14.4, "p": "Participant 2"},
      {"t": 31864, "v": 16, "p": "Participant 2"},
      {"t": 32033, "v": 17.6, "p": "Participant 2"},
      {"t": 32192, "v": 10.6, "p": "Participant 2"},
      {"t": 32384, "v": 14.7, "p": "Participant 2"},
      {"t": 32542, "v": 6.9, "p": "Participant 2"},
      {"t": 32678, "v": 7.7, "p": "Participant 2"},
      {"t": 32859, "v": 8.4, "p": "Participant 2"},
      {"t": 33040, "v": 7.2, "p": "Participant 2"},
      {"t": 33255, "v": 11.8, "p": "Participant 2"},
      {"t": 33447, "v": 9.8, "p": "Participant 2"},
      {"t": 33594, "v": 11, "p": "Participant 2"},
      {"t": 33753, "v": 9.4, "p": "Participant 2"},
      {"t": 33900, "v": 10.2, "p": "Participant 2"},
      {"t": 34183, "v": 10.6, "p": "Participant 2"},
      {"t": 34454, "v": 13.6, "p": "Participant 2"},
      {"t": 34737, "v": 12.5, "p": "Participant 2"},
      {"t": 34918, "v": 10.8, "p": "Participant 2"},
      {"t": 35212, "v": 8.7, "p": "Participant 2"},
      {"t": 35393, "v": 16, "p": "Participant 2"},
      {"t": 35529, "v": 19.8, "p": "Participant 2"},
      {"t": 35710, "v": 11.2, "p": "Participant 2"},
      {"t": 36015, "v": 10.8, "p": "Participant 2"},
      {"t": 36095, "v": 9.4, "p": "Participant 2"},
      {"t": 36241, "v": 6.9, "p": "Participant 2"},
      {"t": 36445, "v": 12.6, "p": "Participant 2"},
      {"t": 36615, "v": 7.6, "p": "Participant 2"}
    ]
  },
  "spacing": 36,
  "resolve": {"legend": {"stroke": "independent"}},
  "vconcat": [
    {
      "title": {"text": "Acceleration", "offset": -2},
      "width": 1179,
      "height": 253,
      "layer": [
        {
          "data": {"name": "accBand"},
          "mark": {"type": "area", "interpolate": "step-after", "opacity": 1},
          "encoding": {
            "x": {"field": "t", "type": "quantitative", "scale": {"domain": [0, 40000], "nice": false, "zero": false},
                  "axis": {"orient": "bottom", "values": [0, 5000, 10000, 15000, 20000, 25000, 30000, 35000, 40000], "labelExpr": "datum.value / 10000", "title": "×10⁴", "titleFontSize": 14, "titleAnchor": "end", "titleAlign": "right", "titlePadding": 8}},
            "y": {"field": "hi", "type": "quantitative", "scale": {"domain": [0, 120], "nice": false},
                  "axis": {"orient": "left", "values": [0, 20, 40, 60, 80, 100, 120], "title": "ms^2"}},
            "y2": {"field": "lo"},
            "fill": {"field": "p", "type": "nominal", "scale": {"domain": ["Participant 1", "Participant 2"], "range": ["#0072BD", "#D95319"]}, "legend": null}
          }
        },
        {
          "data": {"name": "accSpike"},
          "mark": {"type": "rule", "strokeWidth": 1, "opacity": 0.8},
          "encoding": {
            "x": {"field": "t", "type": "quantitative", "axis": {"orient": "top", "values": [0, 5000, 10000, 15000, 20000, 25000, 30000, 35000, 40000], "labels": false, "title": null}},
            "y": {"field": "v", "type": "quantitative", "axis": {"orient": "right", "values": [0, 20, 40, 60, 80, 100, 120], "labels": false, "title": null}},
            "y2": {"datum": 2},
            "stroke": {"field": "p", "type": "nominal", "scale": {"domain": ["Participant 1", "Participant 2"], "range": ["#0072BD", "#D95319"]}, "legend": {"title": null}}
          }
        }
      ],
      "resolve": {"axis": {"x": "independent", "y": "independent"}}
    },
    {
      "title": {"text": "Angular Velocity", "offset": -4},
      "width": 1179,
      "height": 254,
      "layer": [
        {
          "data": {"name": "gyrBand"},
          "mark": {"type": "area", "interpolate": "step-after", "opacity": 1},
          "encoding": {
            "x": {"field": "t", "type": "quantitative", "scale": {"domain": [0, 40000], "nice": false, "zero": false},
                  "axis": {"orient": "bottom", "values": [0, 5000, 10000, 15000, 20000, 25000, 30000, 35000, 40000], "labelExpr": "datum.value / 10000", "title": "×10⁴", "titleFontSize": 14, "titleAnchor": "end", "titleAlign": "right", "titlePadding": 8}},
            "y": {"field": "hi", "type": "quantitative", "scale": {"domain": [0, 30], "nice": false},
                  "axis": {"orient": "left", "values": [0, 5, 10, 15, 20, 25, 30], "title": "rad"}},
            "y2": {"field": "lo"},
            "fill": {"field": "p", "type": "nominal", "scale": {"domain": ["Participant 1", "Participant 2"], "range": ["#0072BD", "#D95319"]}, "legend": null}
          }
        },
        {
          "data": {"name": "gyrSpike"},
          "mark": {"type": "rule", "strokeWidth": 1, "opacity": 0.8},
          "encoding": {
            "x": {"field": "t", "type": "quantitative", "axis": {"orient": "top", "values": [0, 5000, 10000, 15000, 20000, 25000, 30000, 35000, 40000], "labels": false, "title": null}},
            "y": {"field": "v", "type": "quantitative", "axis": {"orient": "right", "values": [0, 5, 10, 15, 20, 25, 30], "labels": false, "title": null}},
            "y2": {"datum": 0},
            "stroke": {"field": "p", "type": "nominal", "scale": {"domain": ["Participant 1", "Participant 2"], "range": ["#0072BD", "#D95319"]}, "legend": {"title": null}}
          }
        }
      ],
      "resolve": {"axis": {"x": "independent", "y": "independent"}}
    }
  ]
}
